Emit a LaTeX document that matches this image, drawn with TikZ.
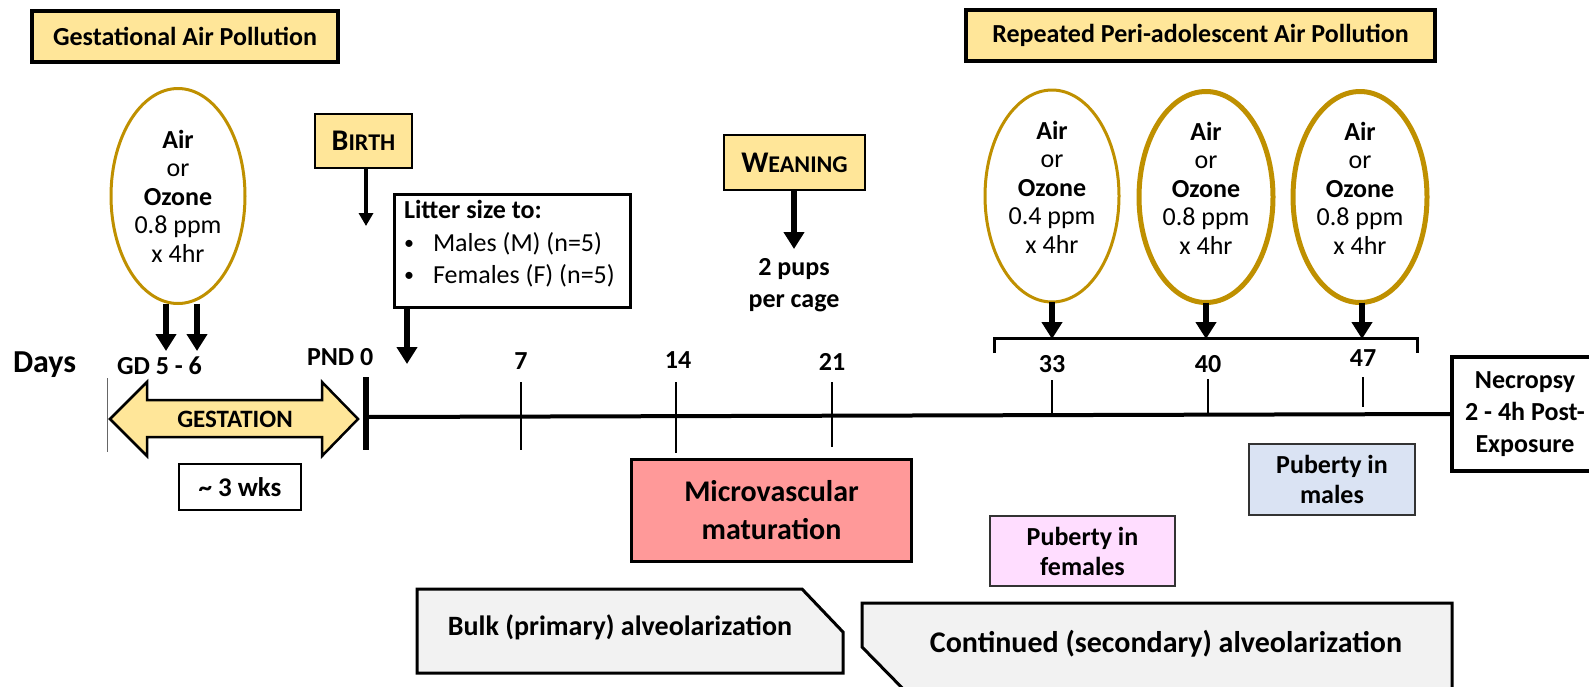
\documentclass[tikz,border=0pt]{standalone}
\usepackage{fontspec}
\setmainfont{Carlito}
\usetikzlibrary{arrows.meta,shapes.geometric}
\definecolor{yel}{HTML}{FFE699}
\definecolor{gold}{HTML}{BF9000}
\definecolor{micro}{HTML}{FF9999}
\definecolor{pinkf}{HTML}{FFDDFF}
\definecolor{bluem}{HTML}{DAE3F3}
\definecolor{grayf}{HTML}{F2F2F2}
\newcommand\myfs[2]{\fontsize{#1}{#2}\selectfont}
\begin{document}
\begin{tikzpicture}[x=1pt,y=-1pt,
  every node/.style={inner sep=0pt, outer sep=0pt},
  box/.style={draw, rectangle, align=center},
  titlebox/.style={box, line width=4pt, fill=yel, font=\bfseries\myfs{26}{30}},
  labelbox/.style={box, line width=2.5pt, fill=yel},
  ozell/.style={draw=gold, ellipse, line width=3pt, minimum width=134pt},
  elltext/.style={align=center, font=\myfs{26}{28.5}},
  bigarrow/.style={line width=6pt, -{Triangle[width=20pt,length=17pt]}},
  smallarrow/.style={line width=3.5pt, -{Triangle[width=14pt,length=13pt]}},
  tick/.style={line width=2.5pt},
  ticklabel/.style={anchor=base, font=\bfseries\myfs{26}{26}},
  boldtxt/.style={align=center, font=\bfseries\myfs{26}{32}}
]
\useasboundingbox (0,0) rectangle (1589,686);
\clip (0,0) rectangle (1589,686);

% titles
\node[titlebox, minimum width=306pt, minimum height=51pt] (gtitle) at (185,36.5) {Gestational Air Pollution};
\node[titlebox, minimum width=469pt, minimum height=51pt] (rtitle) at (1200.5,35.5) {Repeated Peri-adolescent Air Pollution};

% gestational ellipse
\node[ozell, minimum height=215pt] (g1) at (178,196) {};
\node[elltext] (g1t) at (g1.center) {\textbf{Air}\\or\\\textbf{Ozone}\\0.8 ppm\\x 4hr};
\coordinate (gd5) at (166,351);
\coordinate (gd6) at (197,351);
\draw[bigarrow] (g1.south -| gd5) -- (gd5);
\draw[bigarrow] (g1.south -| gd6) -- (gd6);

% peri-adolescent ellipses
\node[ozell, minimum height=212pt] (p1) at (1052,196) {};
\node[ozell, line width=5pt, minimum height=211pt] (p2) at (1206,197) {};
\node[ozell, line width=5pt, minimum height=211pt] (p3) at (1360,197) {};
\node[elltext] (p1t) at ([yshift=9pt]p1.center) {\textbf{Air}\\or\\\textbf{Ozone}\\0.4 ppm\\x 4hr};
\node[elltext] (p2t) at ([yshift=9pt]p2.center) {\textbf{Air}\\or\\\textbf{Ozone}\\0.8 ppm\\x 4hr};
\node[elltext] (p3t) at ([yshift=9pt]p3.center) {\textbf{Air}\\or\\\textbf{Ozone}\\0.8 ppm\\x 4hr};
\coordinate (a33) at (1052,339);
\coordinate (a40) at (1206,339);
\coordinate (a47) at (1362,339);
\draw[bigarrow] (p1.south -| a33) -- (a33);
\draw[bigarrow] (p2.south -| a40) -- (a40);
\draw[bigarrow] (p3.south -| a47) -- (a47);
\coordinate (brL) at (994,353);
\coordinate (brR) at (1417,353);
\draw[line width=3pt] (brL) -- (994,338) -- (1417,338) -- (brR);

% birth
\node[labelbox, minimum width=97pt, minimum height=54pt] (birth) at (363.5,141) {\bfseries\myfs{30}{30}B\myfs{24}{24}IRTH};
\coordinate (bt) at (366,226);
\draw[smallarrow] (birth.south -| bt) -- (bt);

% litter
\node[box, line width=3pt, minimum width=236pt, minimum height=113pt] (litter) at (512.5,251) {};
\node[anchor=base west, font=\bfseries\myfs{26}{26}] (lit1) at (404,218) {Litter size to:};
\node[anchor=base, font=\myfs{20}{20}] (b1) at (409,249) {•};
\node[anchor=base west, font=\myfs{26}{26}] (lit2) at (433,251) {Males (M) (n=5)};
\node[anchor=base, font=\myfs{20}{20}] (b2) at (409,281) {•};
\node[anchor=base west, font=\myfs{26}{26}] (lit3) at (433,283) {Females (F) (n=5)};
\coordinate (lt) at (407,364);
\draw[bigarrow] (litter.south -| lt) -- (lt);

% weaning
\node[labelbox, minimum width=141pt, minimum height=55pt] (wean) at (794.5,162.5) {\bfseries\myfs{30}{30}W\myfs{24}{24}EANING};
\coordinate (wt) at (794,249);
\draw[bigarrow] (wean.south -| wt) -- (wt);
\node[boldtxt] (pups) at (794,285) {2 pups\\per cage};

% days labels
\node[anchor=base west, font=\bfseries\myfs{32}{32}] (days) at (13,372) {Days};
\node[anchor=base west, font=\bfseries\myfs{26}{26}] (gd) at (117,374) {GD 5 - 6};
\node[anchor=base west, font=\bfseries\myfs{26}{26}] (pnd) at (307,365) {PND 0};
\node[ticklabel] (l7) at (521,369) {7};
\node[ticklabel] (l14) at (678,368) {14};
\node[ticklabel] (l21) at (832,370) {21};
\node[ticklabel] (l33) at (1052,372) {33};
\node[ticklabel] (l40) at (1208,372) {40};
\node[ticklabel] (l47) at (1363,366) {47};

% necropsy
\node[box, line width=4pt, minimum width=146pt, minimum height=114pt, font=\bfseries\myfs{26}{32}] (necro) at (1525,414) {Necropsy\\2 - 4h Post-\\Exposure};

% timeline
\coordinate (t0) at (366,417);
\draw[line width=4pt] (t0) -- (necro.west);
\draw[line width=6pt] (366,377) -- (366,450);
\draw[tick] (521,382) -- (521,450);
\draw[tick] (676,382) -- (676,453);
\draw[tick] (832,382) -- (832,447);
\draw[tick] (1052,380) -- (1052,414);
\draw[tick] (1208,379) -- (1208,413);
\draw[tick] (1363,377) -- (1363,407);

% gestation
\draw[black!60, line width=1pt] (107,378) -- (107,452);
\draw[line width=2.5pt, fill=yel, line join=miter]
  (110,419) -- (147,382) -- (147,400) -- (322,400) -- (322,382) -- (358,419)
  -- (322,456) -- (322,437) -- (147,437) -- (147,456) -- cycle;
\node[font=\bfseries\myfs{25}{25}] (gest) at (235,419) {GESTATION};
\node[box, line width=2pt, minimum width=122pt, minimum height=46pt, font=\bfseries\myfs{27}{27}] (wks) at (240,487) {\textasciitilde{} 3 wks};

% development boxes
\node[box, line width=3.5pt, fill=micro, minimum width=280pt, minimum height=102pt, font=\bfseries\myfs{30}{38}] (micro) at (771.5,510.5) {Microvascular\\maturation};
\node[box, line width=2pt, draw=black!80, fill=pinkf, minimum width=185pt, minimum height=70pt, font=\bfseries\myfs{26}{30}] (pubf) at (1082.5,551) {Puberty in\\females};
\node[box, line width=2pt, draw=black!80, fill=bluem, minimum width=166pt, minimum height=71pt, font=\bfseries\myfs{26}{30}] (pubm) at (1332,479.5) {Puberty in\\males};

\draw[line width=3pt, fill=grayf, line join=miter] (417,589) -- (802,589) -- (843,632) -- (843,673) -- (417,673) -- cycle;
\node[font=\bfseries\myfs{28}{28}] (bulk) at (620,627) {Bulk (primary) alveolarization};
\draw[line width=3pt, fill=grayf, line join=miter] (862,603) -- (1452,603) -- (1452,700) -- (914,700) -- (862,647) -- cycle;
\node[font=\bfseries\myfs{30}{30}] (cont) at (1166,644) {Continued (secondary) alveolarization};
\end{tikzpicture}
\end{document}
